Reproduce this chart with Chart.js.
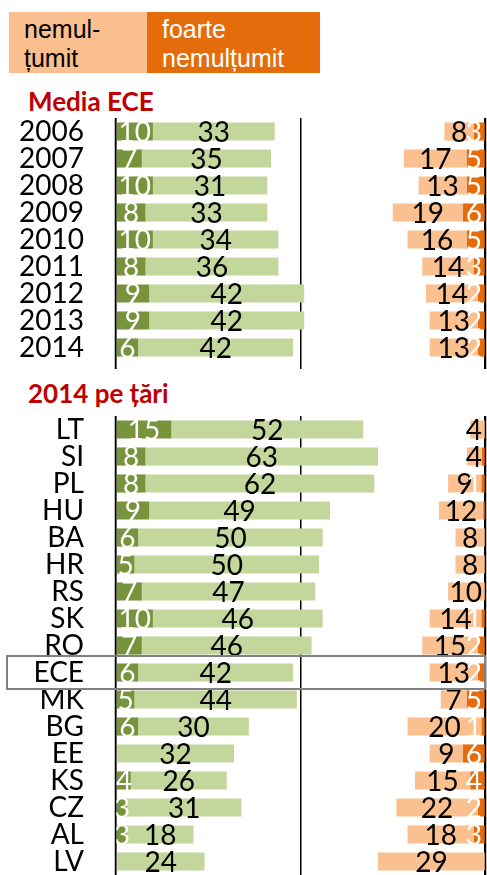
<!DOCTYPE html>
<html><head><meta charset="utf-8">
<script src="https://cdn.jsdelivr.net/npm/chart.js@4.4.1/dist/chart.umd.min.js"></script>
<style>
html,body{margin:0;padding:0;background:#fff;}
body{width:487px;height:875px;overflow:hidden;position:relative;font-family:Lato,sans-serif;}
.box{position:absolute;top:12px;height:61px;box-sizing:border-box;padding:3px 0 0 15px;font-family:"Liberation Sans",Arial,sans-serif;font-size:25px;line-height:28.5px;white-space:nowrap;}
#lg1{left:9px;width:138px;background:#F9BF8F;color:#000;}
#lg2{left:147px;width:173px;background:#E46C0A;color:#fff;}
.hdr{position:absolute;left:28px;font-family:Lato,sans-serif;font-weight:bold;font-size:26px;line-height:26px;color:#C00000;white-space:nowrap;}
.wrap{position:absolute;left:0;width:487px;}
canvas{display:block;}
</style></head>
<body>
<div class="box" id="lg1">nemul-<br>țumit</div>
<div class="box" id="lg2">foarte<br>nemulțumit</div>
<div class="hdr" style="top:88px">Media ECE</div>
<div class="hdr" style="top:380px">2014 pe țări</div>
<div class="wrap" style="top:118px;height:251px"><canvas id="c1" width="487" height="251"></canvas></div>
<div class="wrap" style="top:416px;height:467px"><canvas id="c2" width="487" height="467"></canvas></div>
<script>
// ---- Section 1: Media ECE (years) ----
const years = ['2006','2007','2008','2009','2010','2011','2012','2013','2014'];
const yearsVerySatisfied   = [10, 7, 10, 8, 10, 8, 9, 9, 6];
const yearsSatisfied       = [33, 35, 31, 33, 34, 36, 42, 42, 42];
const yearsDissatisfied    = [8, 17, 13, 19, 16, 14, 14, 13, 13];
const yearsVeryDissatisfied= [3, 5, 5, 6, 5, 3, 2, 2, 2];

// ---- Section 2: 2014 pe țări (countries) ----
const countries = ['LT','SI','PL','HU','BA','HR','RS','SK','RO','ECE','MK','BG','EE','KS','CZ','AL','LV'];
const countriesVerySatisfied   = [15, 8, 8, 9, 6, 5, 7, 10, 7, 6, 5, 6, 0, 4, 3, 3, 0];
const countriesSatisfied       = [52, 63, 62, 49, 50, 50, 47, 46, 46, 42, 44, 30, 32, 26, 31, 18, 24];
const countriesDissatisfied    = [4, 4, 9, 12, 8, 8, 10, 14, 15, 13, 7, 20, 9, 15, 22, 18, 29];
const countriesVeryDissatisfied= [0, 0.9, 1, 0.5, 0, 0, 0, 1, 2, 2, 5, 1, 6, 4, 2, 3, 0];

const highlightLabel = 'ECE';
const axisMax = 100;

const C_DARKGREEN = '#77933C', C_LIGHTGREEN = '#C3D69B', C_LIGHTORANGE = '#FAC090', C_DARKORANGE = '#E46C0A';
const FONT = '28px Lato, "Liberation Sans", sans-serif';

const valueLabels = {
  id: 'valueLabels',
  afterDatasetsDraw(chart) {
    const ctx = chart.ctx;
    const right = chart.chartArea.right;
    chart.data.datasets.forEach((ds, di) => {
      const meta = chart.getDatasetMeta(di);
      meta.data.forEach((el, i) => {
        const v = ds.values[i];
        if (!(v >= 1)) return;
        const p = el.getCenterPoint();
        const txt = String(Math.round(v));
        ctx.save();
        ctx.font = FONT;
        const w = ctx.measureText(txt).width;
        let x = p.x;
        if (x + w / 2 > right - 3) x = right - 3 - w / 2;
        ctx.fillStyle = ds.labelColor;
        ctx.textAlign = 'center';
        ctx.textBaseline = 'middle';
        ctx.fillText(txt, x, p.y + 1);
        ctx.restore();
      });
    });
    // outer axis lines (0 and 100) drawn above the bars
    const xs = chart.scales.x;
    ctx.save();
    ctx.strokeStyle = '#000';
    ctx.lineWidth = 1.5;
    [0, axisMax].forEach(v => {
      const x = Math.round(xs.getPixelForValue(v)) + (v === 0 ? -0.5 : 0.5);
      ctx.beginPath();
      ctx.moveTo(x, chart.chartArea.top);
      ctx.lineTo(x, chart.chartArea.bottom + 8);
      ctx.stroke();
    });
    ctx.restore();
  }
};

const highlightRow = {
  id: 'highlightRow',
  afterDraw(chart, args, opts) {
    const idx = chart.data.labels.indexOf(opts.label);
    if (idx < 0) return;
    const ctx = chart.ctx;
    const yc = chart.scales.y.getPixelForValue(idx);
    const xr = chart.scales.x.getPixelForValue(axisMax);
    ctx.save();
    ctx.strokeStyle = '#808080';
    ctx.lineWidth = 2;
    ctx.strokeRect(7, yc - 16.5, xr - 7, 33);
    ctx.restore();
  }
};

function makeChart(id, labels, vs, s, d, vd, hl) {
  const datasets = [
    { label: 'foarte mulțumit', values: vs, labelColor: '#fff', backgroundColor: C_DARKGREEN,
      data: vs.map(v => [0, v]) },
    { label: 'mulțumit', values: s, labelColor: '#000', backgroundColor: C_LIGHTGREEN,
      data: s.map((v, i) => [vs[i], vs[i] + v]) },
    { label: 'nemulțumit', values: d, labelColor: '#000', backgroundColor: C_LIGHTORANGE,
      data: d.map((v, i) => [axisMax - vd[i] - v, axisMax - vd[i]]) },
    { label: 'foarte nemulțumit', values: vd, labelColor: '#fff', backgroundColor: C_DARKORANGE,
      data: vd.map(v => [axisMax - v, axisMax]) }
  ];
  return new Chart(document.getElementById(id), {
    type: 'bar',
    data: { labels, datasets },
    options: {
      indexAxis: 'y',
      responsive: false,
      animation: false,
      layout: { autoPadding: false, padding: { left: 0, right: 2, top: 0, bottom: 0 } },
      datasets: { bar: { grouped: false, categoryPercentage: 1, barPercentage: 0.67 } },
      plugins: { legend: { display: false }, tooltip: { enabled: false }, highlightRow: { label: hl } },
      scales: {
        x: {
          position: 'bottom', min: 0, max: axisMax,
          ticks: { display: false, stepSize: 50 },
          grid: { color: '#000', lineWidth: 1.5, drawTicks: true, tickLength: 8 },
          border: { display: false },
          afterFit: sc => { sc.height = 8; }
        },
        y: {
          ticks: { autoSkip: false, color: '#000', padding: 32, font: { family: 'Lato', size: 28, lineHeight: 1 } },
          grid: { display: false, drawTicks: false },
          border: { display: false },
          afterFit: sc => { sc.width = 116; sc.paddingTop = 0; sc.paddingBottom = 0; }
        }
      }
    },
    plugins: [valueLabels, highlightRow]
  });
}

makeChart('c1', years, yearsVerySatisfied, yearsSatisfied, yearsDissatisfied, yearsVeryDissatisfied, null);
makeChart('c2', countries, countriesVerySatisfied, countriesSatisfied, countriesDissatisfied, countriesVeryDissatisfied, highlightLabel);
</script>
</body></html>
